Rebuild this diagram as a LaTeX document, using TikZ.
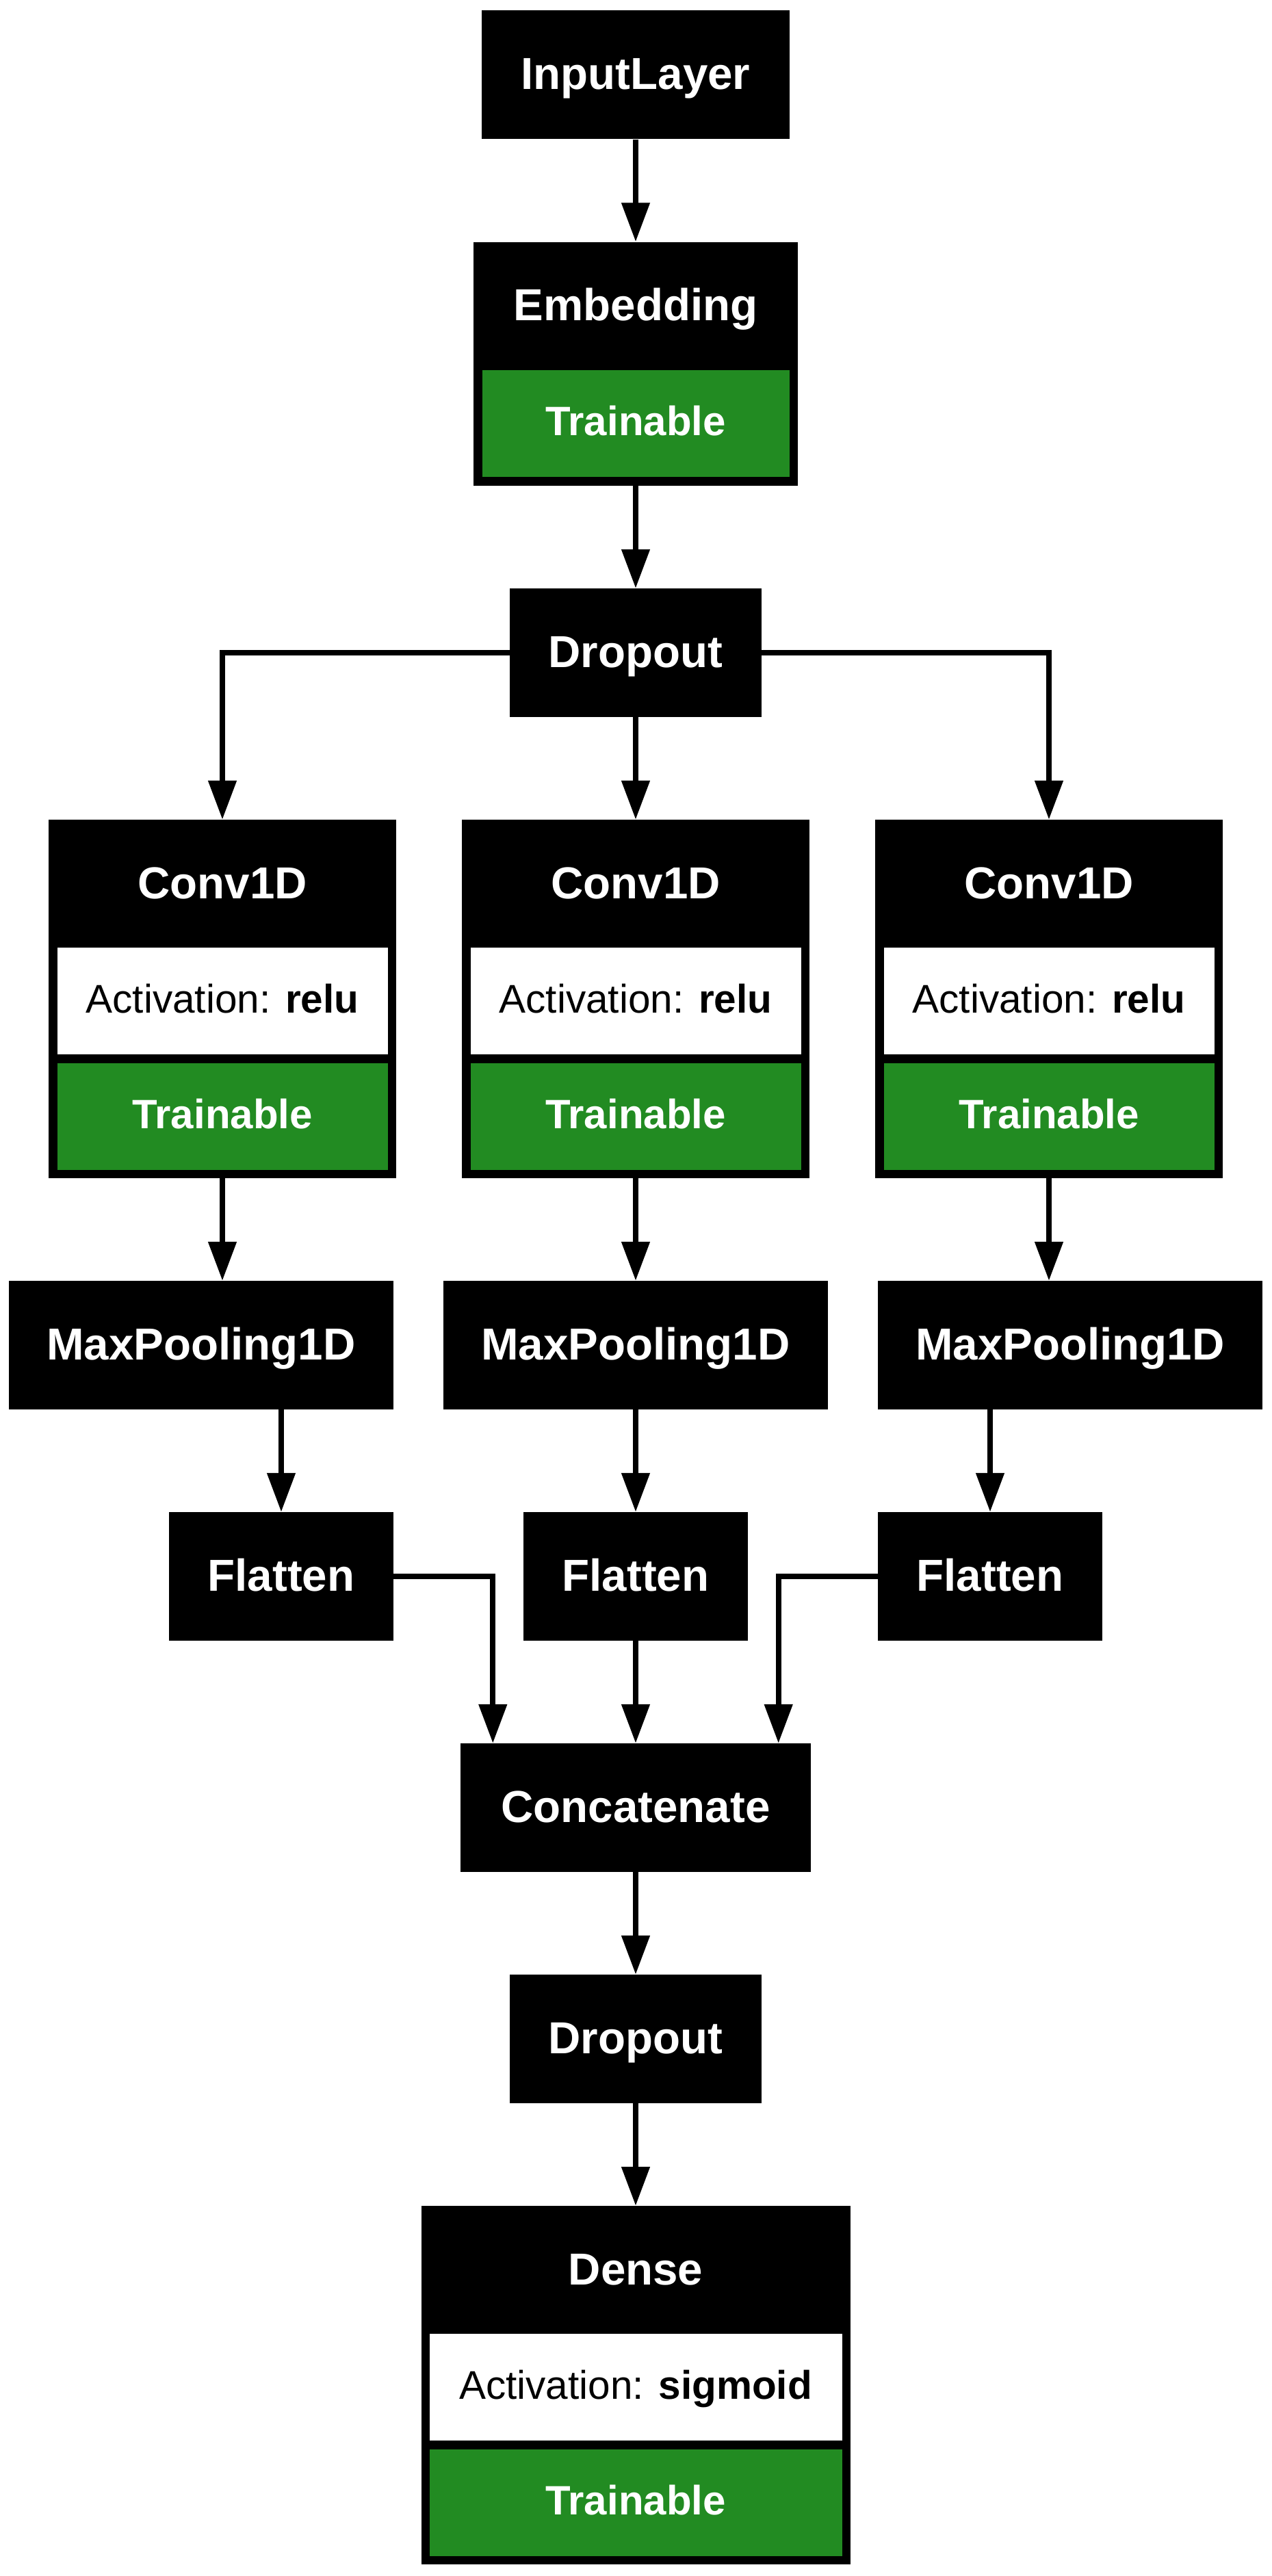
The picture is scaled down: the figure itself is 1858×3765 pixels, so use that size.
\documentclass[tikz,border=0pt]{standalone}
\usepackage{fontspec}
\setmainfont{Liberation Sans}
\usetikzlibrary{arrows.meta}
\definecolor{trgreen}{RGB}{34,139,34}
\newcommand\ftitle{\bfseries\fontsize{65.5}{70}\selectfont}
\newcommand\frow{\fontsize{58.5}{64}\selectfont}
\newcommand\ftrain{\bfseries\fontsize{60}{66}\selectfont}
\begin{document}
\begin{tikzpicture}[x=1pt,y=-1pt,
  blk/.style={fill=black,draw=none,inner sep=0pt,text=white},
  ttl/.style={text=white,inner sep=0pt,font=\ftitle,text height=47pt,text depth=4pt},
  lay/.style={blk,font=\ftitle,text height=47pt,text depth=4pt,minimum height=188pt},
  whiterow/.style={fill=white,inner sep=0pt,font=\frow,text height=42pt,text depth=8pt,minimum height=156pt},
  greenrow/.style={fill=trgreen,text=white,inner sep=0pt,font=\ftrain,text height=43pt,text depth=8pt,minimum height=156pt},
  conn/.style={line width=8pt,-{Triangle[width=40pt,length=57pt]}}]
\useasboundingbox (0,0) rectangle (1858,3765);

% InputLayer
\node[lay,minimum width=450pt] (inp) at (929,109.5) {InputLayer};

% Embedding
\node[blk,minimum width=474pt,minimum height=356.5pt] (emb) at (929,531.75) {};
\node[ttl] (embT) at (929,447.25) {Embedding};
\node[greenrow,minimum width=449pt] (embG) at (929,619) {Trainable};

% Dropout
\node[lay,minimum width=368pt] (drop) at (929,954) {Dropout};

% Conv1D x3
\foreach \n/\cx in {L/325,M/929,R/1533}{
  \node[blk,minimum width=508pt,minimum height=524pt] (conv\n) at (\cx,1460) {};
  \node[ttl] (conv\n T) at (\cx,1291.5) {Conv1D};
  \node[whiterow,minimum width=483pt] (conv\n W) at (\cx,1463) {Activation: \textbf{relu}};
  \node[greenrow,minimum width=483pt] (conv\n G) at (\cx,1631.5) {Trainable};
}

% MaxPooling1D x3
\node[lay,minimum width=562pt] (mpL) at (294,1966) {MaxPooling1D};
\node[lay,minimum width=562pt] (mpM) at (929,1966) {MaxPooling1D};
\node[lay,minimum width=562pt] (mpR) at (1564,1966) {MaxPooling1D};

% Flatten x3
\node[lay,minimum width=328pt] (flL) at (411,2304) {Flatten};
\node[lay,minimum width=328pt] (flM) at (929,2304) {Flatten};
\node[lay,minimum width=328pt] (flR) at (1447,2304) {Flatten};

% Concatenate
\node[lay,minimum width=512pt] (cc) at (929,2642) {Concatenate};

% Dropout 2
\node[lay,minimum width=368pt] (drop2) at (929,2980) {Dropout};

% Dense
\node[blk,minimum width=627pt,minimum height=524pt] (dense) at (929,3486) {};
\node[ttl] (denseT) at (929,3317.5) {Dense};
\node[whiterow,minimum width=603pt] (denseW) at (929,3489) {Activation: \textbf{sigmoid}};
\node[greenrow,minimum width=603pt] (denseG) at (929,3657.5) {Trainable};

% connectors
\draw[conn] (inp) -- (emb);
\draw[conn] (emb) -- (drop);
\draw[conn] (drop) -- (convM);
\draw[conn] (drop.west) -| (convL.north);
\draw[conn] (drop.east) -| (convR.north);
\foreach \n in {L,M,R}{
  \draw[conn] (conv\n.south) -- (conv\n.south |- mp\n.north);
  \draw[conn] (mp\n.south -| fl\n.north) -- (fl\n.north);
}
\draw[conn] (flM) -- (cc);
\draw[conn] (flL.east) -| ([xshift=47.5pt]cc.north west);
\draw[conn] (flR.west) -| ([xshift=-47.5pt]cc.north east);
\draw[conn] (cc) -- (drop2);
\draw[conn] (drop2) -- (dense);
\end{tikzpicture}
\end{document}
